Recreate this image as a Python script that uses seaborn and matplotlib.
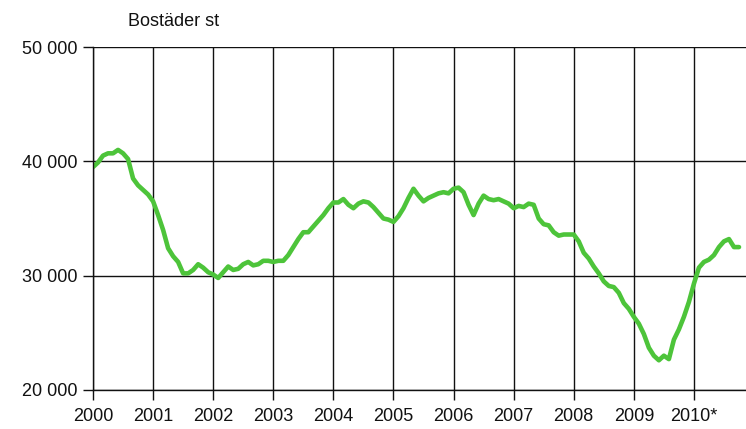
import numpy as np
import pandas as pd
import seaborn as sns
import matplotlib
matplotlib.use("Agg")
import matplotlib.pyplot as plt
from matplotlib.ticker import FuncFormatter

# monthly values, Jan 2000 .. Oct 2010
values_2000 = [39500, 39900, 40500, 40700, 40700, 41000, 40700, 40200, 38500, 37900, 37500, 37100]
values_2001 = [36500, 35300, 34000, 32400, 31700, 31200, 30200, 30200, 30500, 31000, 30700, 30300]
values_2002 = [30100, 29800, 30300, 30800, 30500, 30600, 31000, 31200, 30900, 31000, 31300, 31300]
values_2003 = [31200, 31300, 31300, 31800, 32500, 33200, 33800, 33800, 34300, 34800, 35300, 35900]
values_2004 = [36400, 36400, 36700, 36200, 35900, 36300, 36500, 36400, 36000, 35500, 35000, 34900]
values_2005 = [34700, 35200, 35900, 36800, 37600, 37000, 36500, 36800, 37000, 37200, 37300, 37200]
values_2006 = [37600, 37700, 37300, 36200, 35300, 36300, 37000, 36700, 36600, 36700, 36500, 36300]
values_2007 = [35900, 36100, 36000, 36300, 36200, 35000, 34500, 34400, 33800, 33500, 33600, 33600]
values_2008 = [33600, 33000, 32000, 31500, 30800, 30200, 29500, 29100, 29000, 28500, 27600, 27100]
values_2009 = [26400, 25800, 24900, 23700, 23000, 22600, 23000, 22700, 24400, 25300, 26400, 27700]
values_2010 = [29300, 30700, 31200, 31400, 31800, 32500, 33000, 33200, 32500, 32500]

years = list(range(2000, 2011))
year_labels = [str(y) for y in range(2000, 2010)] + ["2010*"]
y_ticks = [20000, 30000, 40000, 50000]

values = (values_2000 + values_2001 + values_2002 + values_2003 + values_2004 + values_2005
          + values_2006 + values_2007 + values_2008 + values_2009 + values_2010)
df = pd.DataFrame({"time": 2000 + np.arange(len(values)) / 12.0, "dwellings": values})

sns.set_style("white")
plt.rcParams["font.family"] = ["Liberation Sans", "DejaVu Sans"]

fig = plt.figure(figsize=(7.46, 4.29), dpi=100)
ax = fig.add_axes([93 / 746, 1 - 390 / 429, 1 - 93 / 746, (390 - 47) / 429])

ax.set_xlim(2000, 2000 + 652 / 60)
ax.set_ylim(20000, 50000)
ax.set_xticks(years)
ax.set_xticklabels(year_labels)
ax.set_yticks(y_ticks)
ax.yaxis.set_major_formatter(FuncFormatter(lambda v, p: f"{int(v):,}".replace(",", " ")))

ax.grid(True, color="#111111", linewidth=1.0)
ax.set_axisbelow(True)
for side in ["top", "right"]:
    ax.spines[side].set_visible(False)
ax.spines["left"].set_color("#111111")
ax.spines["bottom"].set_color("#111111")
ax.spines["left"].set_linewidth(1.0)
ax.spines["bottom"].set_linewidth(1.0)
ax.tick_params(axis="both", direction="out", length=7, width=1.0, color="#111111",
               labelsize=13, labelcolor="#111111", bottom=True, left=True)
ax.tick_params(axis="x", pad=6)
ax.tick_params(axis="y", pad=4)

sns.lineplot(data=df, x="time", y="dwellings", ax=ax, color="#4dc43a", linewidth=3.3)
ax.set_xlabel("")
ax.set_ylabel("")

fig.text(128 / 746, 1 - 22 / 429, "Bostäder st", fontsize=13, color="#111111", va="center", ha="left")

fig.savefig("out.png", dpi=100)
